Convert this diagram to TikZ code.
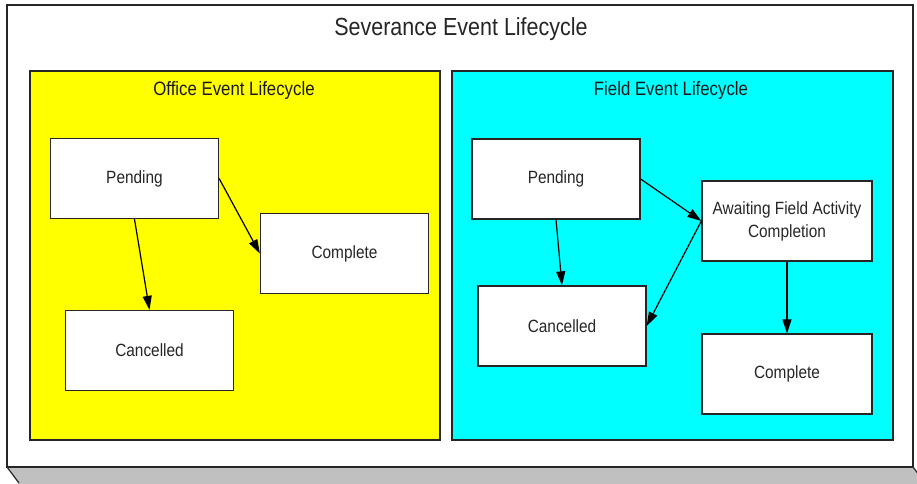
\documentclass[tikz,border=0pt]{standalone}
\usepackage{fontspec}
\setmainfont{Liberation Sans}
\usetikzlibrary{arrows.meta}
\newcommand{\vst}[1]{\scalebox{1}[1.15]{#1}}
\definecolor{shadowgray}{RGB}{192,192,192}
\definecolor{officeyellow}{RGB}{255,255,0}
\definecolor{fieldcyan}{RGB}{0,255,255}
\tikzset{
  frame/.style={draw=black!85, line width=1.4pt},
  state/.style={draw=black!85, line width=1.3pt, fill=white, rectangle,
    minimum width=168pt, minimum height=80pt, inner sep=0pt,
    font=\fontsize{15.4}{20}\selectfont, text=black!85},
  grouptitle/.style={font=\fontsize{16.8}{20}\selectfont, text=black!90, inner sep=0pt},
  arr/.style={-{Triangle[length=14pt,width=9pt]}, line width=1.2pt, black}
}
\begin{document}
\begin{tikzpicture}[x=1pt,y=-1pt]
\useasboundingbox (0,0) rectangle (917,483);
\begin{scope}
\clip (0,0) rectangle (917,483);
% shadow of outer frame
\fill[shadowgray] (7,467) -- (913,467) -- (929,490) -- (23,490) -- cycle;
\draw[line width=1.2pt, black!85] (7,467) -- (19,483);
\draw[line width=1.2pt, black!85] (913,467) -- (925,483);
\end{scope}
% outer frame
\draw[frame, fill=white] (7,5) rectangle (913,467);
\node[inner sep=0pt, font=\fontsize{21.5}{24}\selectfont, text=black!85] (title) at (461,29) {\vst{Severance Event Lifecycle}};
% group boxes
\draw[frame, fill=officeyellow] (30,71) rectangle (440,440);
\draw[frame, fill=fieldcyan] (452,71) rectangle (893,440);
\node[grouptitle] (otitle) at (234,90) {\vst{Office Event Lifecycle}};
\node[grouptitle] (ftitle) at (671,90) {\vst{Field Event Lifecycle}};
% office states
\node[state] (op) at (134.5,178.5) {\vst{Pending}};
\node[state] (oc) at (344.5,253.5) {\vst{Complete}};
\node[state] (ocan) at (149.5,350.5) {\vst{Cancelled}};
% field states
\node[state] (fp) at (556,179) {\vst{Pending}};
\node[state, minimum width=170pt] (aw) at (787,221) {\vst{\begin{tabular}{@{}c@{}}Awaiting Field Activity\\Completion\end{tabular}}};
\node[state] (fcan) at (562,326) {\vst{Cancelled}};
\node[state, minimum width=170pt] (fcomp) at (787,374) {\vst{Complete}};
% connectors
\draw[arr] (op.east) -- (oc.west);
\draw[arr] (op.south) -- (ocan.north);
\draw[arr] (fp.east) -- (aw.west);
\draw[arr] (fp.south) -- (fcan.north);
\draw[arr] (aw.west) -- (fcan.east);
\draw[arr] (aw.south) -- (fcomp.north);
\end{tikzpicture}
\end{document}
